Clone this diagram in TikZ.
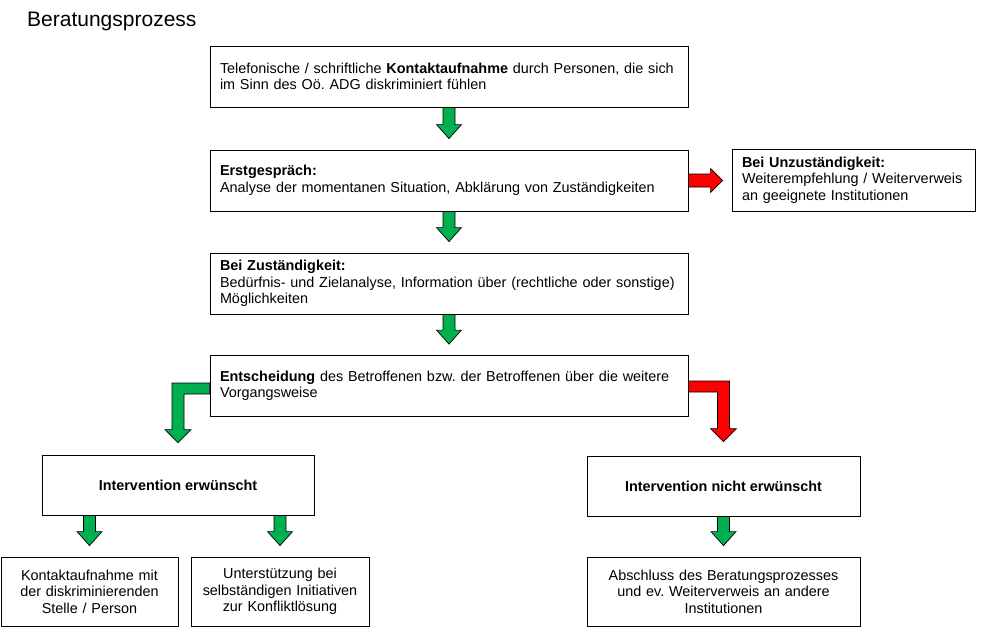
\documentclass[tikz,border=0pt]{standalone}
\usepackage{fontspec}
\setmainfont{Liberation Sans}
\usetikzlibrary{calc,positioning}

\definecolor{okgreen}{RGB}{0,176,80}
\definecolor{alertred}{RGB}{255,0,0}

\newcommand{\boxfont}{\fontsize{14.4}{16.5}\selectfont}
\newcommand{\titlefont}{\fontsize{21}{25}\selectfont}

% block arrow straight down from node #1 to node #2
\newcommand{\blockdown}[3]{%
  \path (#2.north |- #1.south) coordinate (bs) ($(#2.north)+(0,-11)$) coordinate (bt);
  \filldraw[blockarrow,fill=#3] ($(bs)+(-6,0)$) -- ($(bt)+(-6,-14)$) -- ++(-6.5,0) -- (bt)
    -- ++(12.5,-14) -- ++(-6.5,0) -- ($(bs)+(6,0)$) -- cycle;}
% block arrow to the right from node #1 to node #2
\newcommand{\blockright}[3]{%
  \path (#1.east) coordinate (bs) ($(#2.west |- #1.east)+(-9,0)$) coordinate (bt);
  \filldraw[blockarrow,fill=#3] ($(bs)+(0,-6.5)$) -- ($(bt)+(-12,-6.5)$) -- ++(0,-5.5) -- (bt)
    -- ++(-12,12) -- ++(0,-5.5) -- ($(bs)+(0,6.5)$) -- cycle;}

\tikzset{
  stage/.style={draw=black, line width=0.8pt, fill=white, inner xsep=10pt, inner ysep=0pt,
    text width=458pt, minimum height=61pt, align=left, font=\boxfont},
  note/.style={stage, text width=223pt, minimum height=62pt},
  choice/.style={draw=black, line width=0.8pt, fill=white, inner sep=0pt, minimum width=272pt,
    minimum height=60pt, align=center, font=\boxfont\bfseries},
  outcome/.style={draw=black, line width=0.8pt, fill=white, inner xsep=5pt, inner ysep=0pt,
    text width=167pt, minimum height=69pt, align=center, font=\boxfont},
  blockarrow/.style={draw=black, line width=0.7pt, line join=miter}
}

\begin{document}
\begin{tikzpicture}[x=1pt,y=-1pt]
  \useasboundingbox (0,0) rectangle (1000,627);

  \node[anchor=base west, inner sep=0pt, font=\titlefont] (titel) at (27,26.7) {Beratungsprozess};

  % main column
  \node[stage] (kontakt) at (449,76.5)
    {Telefonische / schriftliche \textbf{Kontaktaufnahme} durch Personen, die sich\\
     im Sinn des Oö.\ ADG diskriminiert fühlen};
  \node[stage] (erst) at (449,180.5)
    {\textbf{Erstgespräch:}\\
     Analyse der momentanen Situation, Abklärung von Zuständigkeiten};
  \node[note] (unzust) at (853.5,180)
    {\textbf{Bei Unzuständigkeit:}\\
     Weiterempfehlung / Weiterverweis\\
     an geeignete Institutionen};
  \node[stage] (zust) at (449,283.5)
    {\textbf{Bei Zuständigkeit:}\\
     Bedürfnis- und Zielanalyse, Information über (rechtliche oder sonstige)\\
     Möglichkeiten};
  \node[stage] (entsch) at (449,386)
    {\textbf{Entscheidung} des Betroffenen bzw.\ der Betroffenen über die weitere\\
     Vorgangsweise};

  % the two ways
  \node[choice] (ja) at (178,485) {Intervention erwünscht};
  \node[choice, minimum width=273pt] (nein) at (723.5,486) {Intervention nicht erwünscht};

  \node[outcome] (stelle) at (89.5,591.5)
    {Kontaktaufnahme mit\\der diskriminierenden\\Stelle / Person};
  \node[outcome, text width=168pt] (hilfe) at (280,591.5)
    {Unterstützung bei\\selbständigen Initiativen\\zur Konfliktlösung};
  \node[outcome, text width=263pt] (abschluss) at (723.5,591.5)
    {Abschluss des Beratungsprozesses\\und ev.\ Weiterverweis an andere\\Institutionen};

  % arrows
  \blockdown{kontakt}{erst}{okgreen}
  \blockdown{erst}{zust}{okgreen}
  \blockdown{zust}{entsch}{okgreen}
  \blockright{erst}{unzust}{alertred}
  \blockdown{ja}{stelle}{okgreen}
  \blockdown{ja}{hilfe}{okgreen}
  \blockdown{nein}{abschluss}{okgreen}

  \path ($(entsch.west)+(0,2.5)$) coordinate (ls) (ja.north) ++(0,-12) coordinate (lt);
  \filldraw[blockarrow, fill=okgreen] ($(ls)+(0,-5.5)$) -| ($(lt)+(-6,-13)$) -- ++(-7,0) -- (lt)
    -- ++(13,-13) -- ++(-7,0) |- ($(ls)+(0,5.5)$) -- cycle;
  \path ($(entsch.east)+(0,0.5)$) coordinate (rs) (nein.north) ++(0,-14) coordinate (rt);
  \filldraw[blockarrow, fill=alertred] ($(rs)+(0,-5.5)$) -| ($(rt)+(6,-13)$) -- ++(7,0) -- (rt)
    -- ++(-13,-13) -- ++(7,0) |- ($(rs)+(0,5.5)$) -- cycle;
\end{tikzpicture}
\end{document}
